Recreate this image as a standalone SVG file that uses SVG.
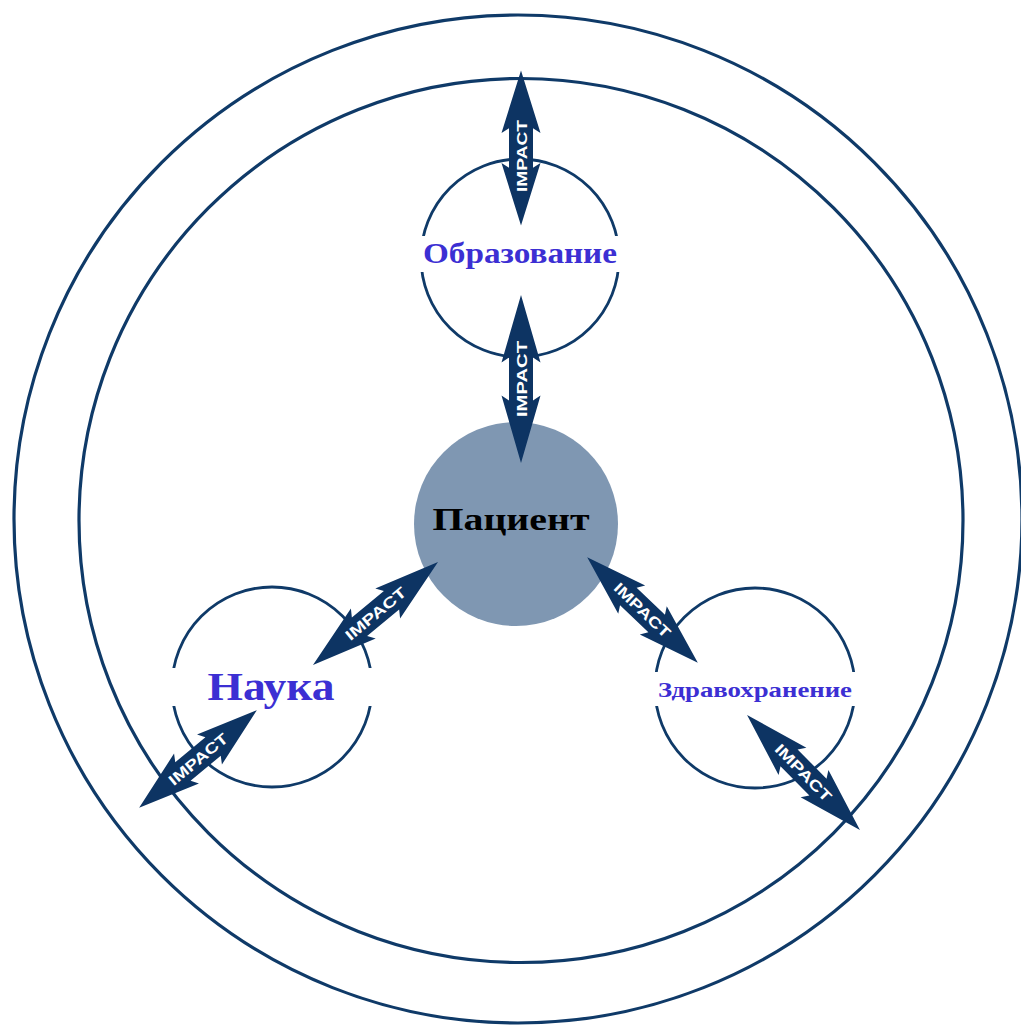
<svg xmlns="http://www.w3.org/2000/svg" width="1021" height="1029" viewBox="0 0 1021 1029">
<style>
.ring{fill:none;stroke:#0f3a68;stroke-width:3.2}
.node{fill:#fff;stroke:#0f3a68;stroke-width:2.8}
.lbl{font-family:"Liberation Serif","Times New Roman",serif;font-weight:bold;fill:#3c2fd3;text-anchor:middle}
.imp{font-family:"Liberation Sans",Arial,sans-serif;font-weight:bold;font-size:15px;fill:#fff;text-anchor:middle}
.bg{fill:#fff}
</style>
<defs>
<path id="arr" d="M -82 0 L -16 -19.5 L -21 -12 L 21 -12 L 16 -19.5 L 82 0 L 16 19.5 L 21 12 L -21 12 L -16 19.5 Z" fill="#0d3463"/>
</defs>
<rect width="1021" height="1029" fill="#fff"/>
<g id="outer-ring"><circle class="ring" cx="518" cy="519" r="504"/></g>
<g id="inner-ring"><circle class="ring" cx="521" cy="520.5" r="442"/></g>
<g id="obrazovanie">
<circle class="node" cx="520" cy="258" r="99"/>
<rect class="bg" x="418" y="236" width="204" height="36"/>
<text class="lbl" x="520" y="263" font-size="29" textLength="194" lengthAdjust="spacingAndGlyphs">Образование</text>
</g>
<g id="nauka">
<circle class="node" cx="272" cy="687" r="100"/>
<rect class="bg" x="170" y="668" width="204" height="38"/>
<text class="lbl" x="271" y="700" font-size="41" textLength="127" lengthAdjust="spacingAndGlyphs">Наука</text>
</g>
<g id="zdravookhranenie">
<circle class="node" cx="755" cy="688" r="100"/>
<rect class="bg" x="653" y="672" width="204" height="34"/>
<text class="lbl" x="755" y="697" font-size="22" textLength="194" lengthAdjust="spacingAndGlyphs">Здравохранение</text>
</g>
<g id="patsient">
<circle cx="516" cy="524" r="102" fill="#7f97b2"/>
<text x="511" y="530" font-family="'Liberation Serif','Times New Roman',serif" font-weight="bold" font-size="32" fill="#000" text-anchor="middle" textLength="157" lengthAdjust="spacingAndGlyphs">Пациент</text>
</g>
<g id="connectors">
<g transform="translate(521,148) rotate(-90)"><use href="#arr" transform="scale(0.945,1)"/><text class="imp" x="-8" y="5.5" textLength="72" lengthAdjust="spacingAndGlyphs">IMPACT</text></g>
<g transform="translate(521,379) rotate(-90)"><use href="#arr" transform="scale(1.024,1)"/><text class="imp" x="0" y="5.5" textLength="76" lengthAdjust="spacingAndGlyphs">IMPACT</text></g>
<g transform="translate(375.5,613.5) rotate(-39.5)"><use href="#arr" transform="scale(0.988,1)"/><text class="imp" x="0" y="5.5" textLength="74" lengthAdjust="spacingAndGlyphs">IMPACT</text></g>
<g transform="translate(198,759) rotate(-39.7)"><use href="#arr" transform="scale(0.933,1)"/><text class="imp" x="0" y="5.5" textLength="72" lengthAdjust="spacingAndGlyphs">IMPACT</text></g>
<g transform="translate(642.5,610) rotate(43.7)"><use href="#arr" transform="scale(0.933,1)"/><text class="imp" x="0" y="5.5" textLength="72" lengthAdjust="spacingAndGlyphs">IMPACT</text></g>
<g transform="translate(803.5,772.5) rotate(45.5)"><use href="#arr" transform="scale(0.982,1)"/><text class="imp" x="0" y="5.5" textLength="74" lengthAdjust="spacingAndGlyphs">IMPACT</text></g>
</g>
</svg>
